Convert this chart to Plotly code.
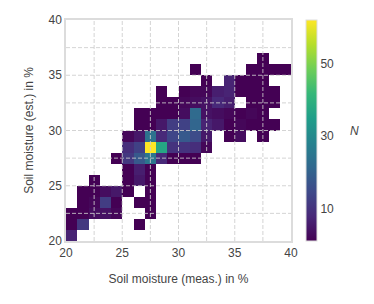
import numpy as np
import plotly.graph_objects as go

# ---- data: occupied 1%-bins (lower-left corner of each bin) and counts N ----
bin_edges = list(range(20, 41))          # 20 .. 40 in %, bin width 1
cell_meas = [20,
             20, 21, 26,
             20, 21, 22, 23, 24, 27,
             21, 22, 23, 24, 26, 27,
             21, 22, 23, 24, 25, 27,
             22, 25, 26, 27,
             25, 26, 27,
             24, 25, 26, 27, 28, 29, 30, 31,
             25, 26, 27, 28, 29, 30, 31, 32,
             25, 26, 27, 28, 29, 30, 31, 32, 34, 35, 37,
             26, 27, 28, 29, 30, 31, 32, 33, 34, 35, 36, 37, 38,
             26, 27, 28, 29, 30, 31, 32, 33, 34, 35, 36, 37,
             28, 29, 30, 31, 32, 33, 34, 36, 37, 38,
             28, 30, 31, 32, 33, 34, 35, 36, 37, 38,
             32, 34, 35, 36, 37,
             31, 36, 37, 38, 39,
             37]
cell_est = [20,
            21, 21, 21,
            22, 22, 22, 22, 22, 22,
            23, 23, 23, 23, 23, 23,
            24, 24, 24, 24, 24, 24,
            25, 25, 25, 25,
            26, 26, 26,
            27, 27, 27, 27, 27, 27, 27, 27,
            28, 28, 28, 28, 28, 28, 28, 28,
            29, 29, 29, 29, 29, 29, 29, 29, 29, 29, 29,
            30, 30, 30, 30, 30, 30, 30, 30, 30, 30, 30, 30, 30,
            31, 31, 31, 31, 31, 31, 31, 31, 31, 31, 31, 31,
            32, 32, 32, 32, 32, 32, 32, 32, 32, 32,
            33, 33, 33, 33, 33, 33, 33, 33, 33, 33,
            34, 34, 34, 34, 34,
            35, 35, 35, 35, 35,
            36]
cell_n = [7,
          1, 11, 1,
          1, 1, 3, 4, 2, 1,
          1, 2, 12, 1, 1, 1,
          1, 1, 3, 5, 1, 1,
          1, 1, 5, 1,
          1, 6, 1,
          1, 11, 18, 25, 8, 1, 1, 1,
          9, 13, 62, 37, 10, 10, 9, 2,
          2, 5, 24, 8, 14, 18, 15, 5, 1, 3, 1,
          1, 1, 5, 12, 13, 21, 7, 5, 1, 2, 1, 1, 1,
          1, 1, 1, 1, 3, 22, 4, 3, 2, 1, 2, 1,
          1, 1, 2, 3, 4, 8, 6, 1, 1, 1,
          1, 1, 2, 2, 6, 7, 1, 1, 1, 1,
          1, 7, 1, 1, 1,
          1, 1, 1, 1, 1,
          1]
axis_ticks = [20, 25, 30, 35, 40]
cbar_ticks = [10, 30, 50]

# ---- build the count matrix ----
edges = np.array(bin_edges, dtype=float)
centers = (edges[:-1] + edges[1:]) / 2
nb = len(centers)
z = [[None] * nb for _ in range(nb)]
for mx, ey, n in zip(cell_meas, cell_est, cell_n):
    z[bin_edges.index(ey)][bin_edges.index(mx)] = n

font_fam = "Arial, Liberation Sans, sans-serif"
txt_col = "#444444"

fig = go.Figure(go.Heatmap(
    x=centers, y=centers, z=z,
    colorscale="Viridis", zmin=1, zmax=62,
    hoverongaps=False,
    colorbar=dict(
        x=1.067, xanchor="left", xpad=0,
        y=0.5, yanchor="middle", len=1.0, lenmode="fraction", ypad=0,
        thickness=11,
        tickvals=cbar_ticks, ticks="",
        tickfont=dict(family=font_fam, size=12, color=txt_col),
        outlinecolor="#dddddd", outlinewidth=1,
    ),
))

# dashed grid drawn above the cells (as in the reference)
grid_pos = np.arange(edges[0] + 2.5, edges[-1], 2.5)
shapes = []
for g in grid_pos:
    shapes.append(dict(type="line", xref="x", yref="paper", x0=g, x1=g, y0=0, y1=1,
                       layer="above", line=dict(color="rgba(205,205,205,0.85)", width=1, dash="4px,2px")))
    shapes.append(dict(type="line", xref="paper", yref="y", y0=g, y1=g, x0=0, x1=1,
                       layer="above", line=dict(color="rgba(205,205,205,0.85)", width=1, dash="4px,2px")))

axis_common = dict(
    range=[edges[0], edges[-1]], tickvals=axis_ticks, ticks="",
    showgrid=False, zeroline=False,
    showline=True, mirror=True, linecolor="#dcdcdc", linewidth=1.5,
    tickfont=dict(family=font_fam, size=12, color=txt_col),
)

# page body has an 8px default margin, so the margins are shifted by 8px
fig.update_layout(
    width=374, height=304,
    margin=dict(l=58, r=91, t=5, b=71),
    paper_bgcolor="white", plot_bgcolor="white",
    font=dict(family=font_fam, size=12, color=txt_col),
    xaxis=dict(**axis_common,
               title=dict(text="Soil moisture (meas.) in %", standoff=15,
                          font=dict(family=font_fam, size=12, color=txt_col))),
    yaxis=dict(**axis_common,
               title=dict(text="Soil moisture (est.) in %", standoff=12,
                          font=dict(family=font_fam, size=12, color=txt_col))),
    shapes=shapes,
    annotations=[dict(text="<i>N</i>", xref="paper", yref="paper", x=1.28, y=0.5,
                      showarrow=False, xanchor="center", yanchor="middle",
                      font=dict(family=font_fam, size=12, color=txt_col))],
)

fig.write_html("out.html")
